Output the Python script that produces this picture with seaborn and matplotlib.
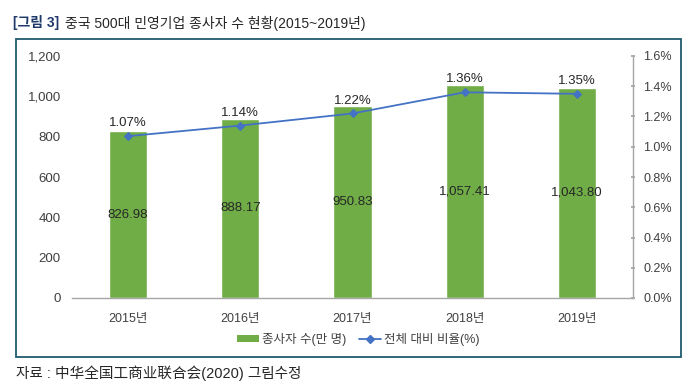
import matplotlib
matplotlib.use("Agg")
import matplotlib.pyplot as plt
import seaborn as sns
import pandas as pd
from matplotlib.patches import Rectangle, Patch
from matplotlib.lines import Line2D
from matplotlib.ticker import FuncFormatter, MultipleLocator

years = ["2015년", "2016년", "2017년", "2018년", "2019년"]
employees = [826.98, 888.17, 950.83, 1057.41, 1043.80]
ratio = [1.07, 1.14, 1.22, 1.36, 1.35]
bar_label = "종사자 수(만 명)"
line_label = "전체 대비 비율(%)"

sns.set_theme(style="white")
plt.rcParams['font.family'] = ['Liberation Sans', 'Noto Sans CJK KR', 'DejaVu Sans']

GREEN = "#70AD47"
BLUE = "#4472C4"
TXT = "#404040"

df = pd.DataFrame({"year": years, "emp": employees, "ratio": ratio, "pos": range(len(years))})

fig = plt.figure(figsize=(6.89, 3.88), dpi=100)
ax = fig.add_axes([72/689, 1-298/388, (633-72)/689, (298-56)/388])

sns.barplot(data=df, x="year", y="emp", color=GREEN, width=0.34, saturation=1, ax=ax)
ax.set_xlim(-0.5, 4.5)
ax.set_ylim(0, 1200)
ax.yaxis.set_major_locator(MultipleLocator(200))
ax.yaxis.set_major_formatter(FuncFormatter(lambda v, p: f"{v:,.0f}"))
ax.set_xlabel("")
ax.set_ylabel("")
for s in ["top", "right", "left"]:
    ax.spines[s].set_visible(False)
ax.spines["bottom"].set_color("#A6A6A6")
ax.spines["bottom"].set_linewidth(1.0)
ax.tick_params(axis="y", length=0, labelsize=9.5, labelcolor=TXT, pad=8)
ax.tick_params(axis="x", length=0, labelsize=9, labelcolor=TXT, pad=11)

for i, v in enumerate(employees):
    ax.text(i, v / 2, f"{v:,.2f}", ha="center", va="center", fontsize=9.5, color="#262626")

ax2 = ax.twinx()
sns.lineplot(data=df, x="pos", y="ratio", color=BLUE, marker="D", markersize=4.5,
             markeredgecolor=BLUE, linewidth=1.3, ax=ax2)
ax2.set_ylim(0, 1.6)
ax2.yaxis.set_major_locator(MultipleLocator(0.2))
ax2.yaxis.set_major_formatter(FuncFormatter(lambda v, p: f"{v:.1f}%"))
ax2.set_xlim(-0.5, 4.5)
ax2.set_ylabel("")
ax2.set_xlabel("")
for s in ["top", "left", "bottom"]:
    ax2.spines[s].set_visible(False)
ax2.spines["right"].set_color("#A6A6A6")
ax2.spines["right"].set_linewidth(1.0)
ax2.tick_params(axis="y", length=3, direction="inout", color="#A6A6A6", labelsize=9,
                labelcolor=TXT, pad=6, right=True)
for i, r in enumerate(ratio):
    ax2.annotate(f"{r:.2f}%", (i, r), xytext=(0, 5), textcoords="offset points",
                 ha="center", va="bottom", fontsize=9.5, color="#262626")

handles = [Patch(facecolor=GREEN, edgecolor="none"),
           Line2D([0], [0], color=BLUE, marker="D", markersize=4, linewidth=1.3)]
fig.legend(handles, [bar_label, line_label], loc="center", bbox_to_anchor=(358/689, 1-339/388),
           ncol=2, frameon=False, fontsize=9, handlelength=1.8, handleheight=0.5,
           columnspacing=1.0, handletextpad=0.2, labelcolor=TXT)

fig.add_artist(Rectangle((16/689, 1-357/388), 665/689, 318/388, transform=fig.transFigure,
                         fill=False, edgecolor="#1F5C6E", linewidth=1.3))

fig.text(13/689, 1-23/388, "[그림 3]", ha="left", va="center", fontsize=10,
         color="#1F3A6A", fontweight="bold")
fig.text(65/689, 1-23/388, "중국 500대 민영기업 종사자 수 현황(2015~2019년)", ha="left", va="center",
         fontsize=10, color="#262626")
fig.text(16/689, 1-373/388, "자료 : 中华全国工商业联合会(2020) 그림수정", ha="left", va="center",
         fontsize=10.5, color="#262626",
         family=['Liberation Sans', 'Noto Sans CJK SC', 'Noto Sans CJK KR'])

fig.savefig("out.png", dpi=100)
